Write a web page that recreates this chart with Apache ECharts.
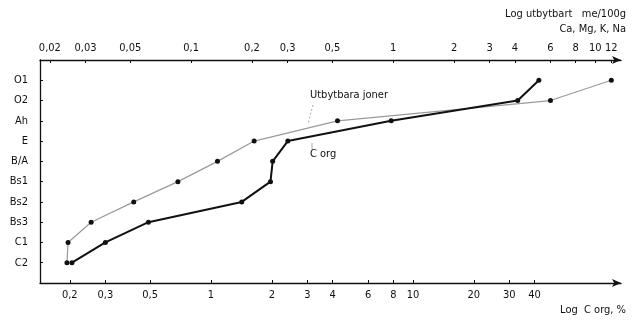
<!DOCTYPE html>
<html><head><meta charset="utf-8">
<script src="https://cdn.jsdelivr.net/npm/echarts@6/dist/echarts.min.js"></script>
<style>html,body{margin:0;padding:0;background:#fff}#c{width:636px;height:325px}</style>
</head><body><div id="c"></div>
<script>
const horizons = ['O1','O2','Ah','E','B/A','Bs1','Bs2','Bs3','C1','C2'];
const exchangeableIons = [12.0, 6.0, 0.53, 0.205, 0.135, 0.086, 0.052, 0.032, 0.0246, 0.0243];
const organicC = [42, 33, 7.8, 2.4, 2.02, 1.97, 1.42, 0.49, 0.30, 0.205];
const topTicks = [0.02,0.03,0.05,0.1,0.2,0.3,0.5,1,2,3,4,6,8,10,12];
const bottomTicks = [0.2,0.3,0.5,1,2,3,4,6,8,10,20,30,40];

const FONT = 'DejaVu Sans Condensed';
const fmt = v => String(+v).replace('.', ',');
const chart = echarts.init(document.getElementById('c'), null, {renderer:'canvas'});
const axisLine = {show:true, lineStyle:{color:'#111', width:1.3}, symbol:['none','arrow'], symbolSize:[6,9]};
chart.setOption({
  animation:false,
  backgroundColor:'#fff',
  textStyle:{fontFamily:FONT},
  grid:{left:40, right:15, top:60, bottom:42},
  xAxis:[{
    type:'log', position:'top', min:0.01787, max:13.4,
    axisLine: axisLine,
    axisTick:{show:true, inside:true, length:3, lineStyle:{color:'#111'}, customValues: topTicks},
    axisLabel:{customValues: topTicks, formatter: fmt, margin:6, fontSize:11, color:'#111', fontFamily:FONT},
    splitLine:{show:false}, minorTick:{show:false}
  },{
    type:'log', position:'bottom', min:0.1424, max:107.1,
    axisLine: axisLine,
    axisTick:{show:true, inside:true, length:3, lineStyle:{color:'#111'}, customValues: bottomTicks},
    axisLabel:{customValues: bottomTicks, formatter: fmt, margin:7, fontSize:11, color:'#111', fontFamily:FONT},
    splitLine:{show:false}, minorTick:{show:false}
  }],
  yAxis:{
    type:'value', min:0, max:11, interval:1, inverse:true,
    axisLine:{show:true, lineStyle:{color:'#111', width:1.3}},
    axisTick:{show:true, inside:true, length:3, lineStyle:{color:'#111'}},
    axisLabel:{formatter: v => (v>=1 && v<=horizons.length) ? horizons[v-1] : '', margin:12, fontSize:11, color:'#111', fontFamily:FONT},
    splitLine:{show:false}
  },
  series:[{
    name:'Utbytbara joner', type:'line', xAxisIndex:0,
    data: exchangeableIons.map((v,i)=>[v, i+1]),
    symbol:'circle', symbolSize:5, itemStyle:{color:'#111'},
    lineStyle:{color:'#9a9a9a', width:1.2}, z:2
  },{
    name:'C org', type:'line', xAxisIndex:1,
    data: organicC.map((v,i)=>[v, i+1]),
    symbol:'circle', symbolSize:5, itemStyle:{color:'#111'},
    lineStyle:{color:'#111', width:2}, z:3
  }],
  graphic:[
    {type:'text', right:10, top:9, style:{text:'Log utbytbart   me/100g', font:'11px "'+FONT+'"', fill:'#111', align:'right'}},
    {type:'text', right:10, top:24, style:{text:'Ca, Mg, K, Na', font:'11px "'+FONT+'"', fill:'#111', align:'right'}},
    {type:'text', right:10, top:305, style:{text:'Log  C org, %', font:'11px "'+FONT+'"', fill:'#111', align:'right'}},
    {type:'text', left:310, top:90, style:{text:'Utbytbara joner', font:'11px "'+FONT+'"', fill:'#111'}},
    {type:'line', shape:{x1:313, y1:105, x2:308, y2:124}, style:{stroke:'#aaa', lineWidth:1, lineDash:[2,2]}},
    {type:'text', left:310, top:149, style:{text:'C org', font:'11px "'+FONT+'"', fill:'#111'}},
    {type:'line', shape:{x1:312, y1:143, x2:312, y2:149}, style:{stroke:'#aaa', lineWidth:1}}
  ]
});
</script></body></html>
